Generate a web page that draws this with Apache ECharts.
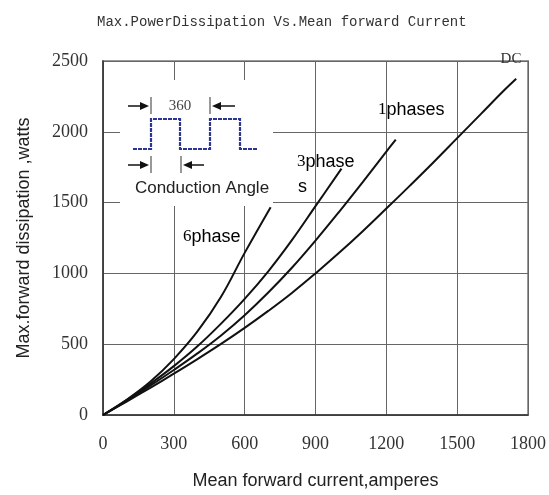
<!DOCTYPE html>
<html><head><meta charset="utf-8">
<script src="https://cdn.jsdelivr.net/npm/echarts@6/dist/echarts.min.js"></script>
<style>html,body{margin:0;padding:0;background:#fff}#c{width:549px;height:495px}</style>
</head><body><div id="c"></div>
<script>
// ---- data ----
const xTicks = [0, 300, 600, 900, 1200, 1500, 1800];
const yTicks = [0, 500, 1000, 1500, 2000, 2500];

const dcCurrent = [0,100,200,300,400,500,600,700,800,900,1000,1100,1200,1300,1400,1500,1600,1700,1750];
const dcPower   = [0,95,192,292,395,502,615,735,862,1000,1145,1298,1458,1620,1785,1955,2125,2295,2375];

const ph1Current = [0,100,200,300,400,500,600,700,800,900,1000,1100,1200,1240];
const ph1Power   = [0,100,207,318,435,562,705,865,1040,1232,1435,1645,1860,1945];

const ph3Current = [0,100,200,300,400,500,600,700,800,900,1010];
const ph3Power   = [0,105,220,345,485,645,820,1015,1235,1475,1740];

const ph6Current = [0,100,200,300,400,500,600,710];
const ph6Power   = [0,108,235,395,590,835,1145,1468];

const titleText = 'Max.PowerDissipation Vs.Mean forward Current';
const xName = 'Mean forward current,amperes';
const yName = 'Max.forward dissipation ,watts';

function zip(a, b) { return a.map((v, i) => [v, b[i]]); }

const chart = echarts.init(document.getElementById('c'), null, {renderer: 'canvas'});
const serif = '"Liberation Serif", "DejaVu Serif", serif';
const sans = '"Liberation Sans", Arial, sans-serif';

function curve(name, xs, ys) {
  return {
    name: name, type: 'line', data: zip(xs, ys), smooth: 0.4, symbol: 'none',
    lineStyle: {color: '#111', width: 2}, z: 5
  };
}

const lblRich = {
  d: {fontFamily: serif, fontSize: 17, color: '#333'},
  t: {fontFamily: sans, fontSize: 18, color: '#222'}
};

chart.setOption({
  animation: false,
  backgroundColor: '#fff',
  title: {
    text: titleText, left: 92, top: 10,
    textStyle: {fontFamily: '"Liberation Mono", monospace', fontSize: 14, fontWeight: 'normal', color: '#333'}
  },
  grid: {left: 103, right: 20, top: 61, bottom: 78, show: true, borderColor: '#999', borderWidth: 2, backgroundColor: 'transparent'},
  xAxis: {
    type: 'value', min: 0, max: 1800, interval: 300,
    name: xName, nameLocation: 'middle', nameGap: 57,
    nameTextStyle: {fontFamily: sans, fontSize: 18, color: '#222'},
    axisLine: {show: true, lineStyle: {color: '#333', width: 1.5}},
    axisTick: {show: false},
    axisLabel: {fontFamily: serif, fontSize: 18, color: '#333', margin: 20,
      formatter: v => xTicks.includes(v) ? String(v) : ''},
    splitLine: {show: true, lineStyle: {color: '#666', width: 1}}
  },
  yAxis: {
    type: 'value', min: 0, max: 2500, interval: 500,
    name: yName, nameLocation: 'middle', nameGap: 70,
    nameTextStyle: {fontFamily: sans, fontSize: 18, color: '#222'},
    axisLine: {show: true, lineStyle: {color: '#333', width: 1.5}},
    axisTick: {show: false},
    axisLabel: {fontFamily: serif, fontSize: 18, color: '#333', margin: 15,
      formatter: v => yTicks.includes(v) ? String(v) : ''},
    splitLine: {show: true, lineStyle: {color: '#666', width: 1}}
  },
  series: [
    curve('DC', dcCurrent, dcPower),
    curve('1phases', ph1Current, ph1Power),
    curve('3phases', ph3Current, ph3Power),
    curve('6phase', ph6Current, ph6Power)
  ],
  graphic: [
    {type: 'rect', z: 20, shape: {x: 120, y: 80, width: 153, height: 126}, style: {fill: '#fff'}},
    // square wave
    {type: 'polyline', z: 21, shape: {points: [[133,149],[151,149],[151,119],[180,119],[180,149],[210,149],[210,119],[240,119],[240,149],[258,149]]},
      style: {stroke: '#2b3592', lineWidth: 2.2, fill: null, lineDash: [4, 1]}},
    // top dimension: 360
    {type: 'line', z: 21, shape: {x1: 128, y1: 106, x2: 142, y2: 106}, style: {stroke: '#111', lineWidth: 1.5}},
    {type: 'polygon', z: 21, shape: {points: [[140,102],[149,106],[140,110]]}, style: {fill: '#111'}},
    {type: 'line', z: 21, shape: {x1: 151, y1: 97, x2: 151, y2: 114}, style: {stroke: '#333', lineWidth: 1}},
    {type: 'line', z: 21, shape: {x1: 210, y1: 97, x2: 210, y2: 114}, style: {stroke: '#333', lineWidth: 1}},
    {type: 'polygon', z: 21, shape: {points: [[221,102],[212,106],[221,110]]}, style: {fill: '#111'}},
    {type: 'line', z: 21, shape: {x1: 219, y1: 106, x2: 235, y2: 106}, style: {stroke: '#111', lineWidth: 1.5}},
    {type: 'text', z: 21, style: {text: '360', x: 180, y: 106, align: 'center', verticalAlign: 'middle',
      font: '15px ' + serif, fill: '#444'}},
    // bottom dimension: conduction angle
    {type: 'line', z: 21, shape: {x1: 128, y1: 165, x2: 142, y2: 165}, style: {stroke: '#111', lineWidth: 1.5}},
    {type: 'polygon', z: 21, shape: {points: [[140,161],[149,165],[140,169]]}, style: {fill: '#111'}},
    {type: 'line', z: 21, shape: {x1: 151, y1: 156, x2: 151, y2: 173}, style: {stroke: '#333', lineWidth: 1}},
    {type: 'line', z: 21, shape: {x1: 181, y1: 156, x2: 181, y2: 173}, style: {stroke: '#333', lineWidth: 1}},
    {type: 'polygon', z: 21, shape: {points: [[192,161],[183,165],[192,169]]}, style: {fill: '#111'}},
    {type: 'line', z: 21, shape: {x1: 190, y1: 165, x2: 204, y2: 165}, style: {stroke: '#111', lineWidth: 1.5}},
    {type: 'text', z: 21, style: {text: 'Conduction Angle', x: 202, y: 188, align: 'center', verticalAlign: 'middle',
      font: '17px ' + sans, fill: '#222'}},
    // curve labels
    {type: 'text', z: 21, style: {text: '{d|1}{t|phases}', rich: lblRich, x: 378, y: 110, verticalAlign: 'middle'}},
    {type: 'text', z: 21, style: {text: '{d|3}{t|phase}', rich: lblRich, x: 297, y: 162, verticalAlign: 'middle'}},
    {type: 'text', z: 21, style: {text: '{t|s}', rich: lblRich, x: 298, y: 187, verticalAlign: 'middle'}},
    {type: 'text', z: 21, style: {text: '{d|6}{t|phase}', rich: lblRich, x: 183, y: 237, verticalAlign: 'middle'}},
    {type: 'text', z: 21, style: {text: 'DC', x: 511, y: 59, align: 'center', verticalAlign: 'middle',
      font: '15px ' + serif, fill: '#333'}}
  ]
});
</script></body></html>
